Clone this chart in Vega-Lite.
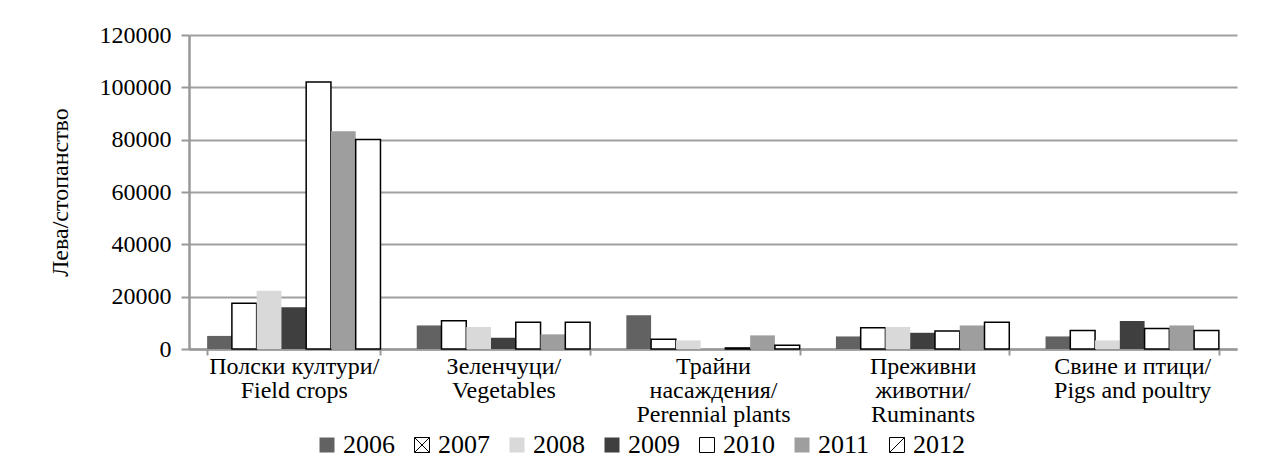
{
  "$schema": "https://vega.github.io/schema/vega-lite/v6.json",
  "width": 1048,
  "height": 314,
  "autosize": {"type": "none"},
  "padding": {"left": 189, "top": 35, "right": 27, "bottom": 110},
  "background": "white",
  "config": {
    "view": {"stroke": null},
    "font": "Liberation Serif",
    "axis": {"labelFont": "'Liberation Serif', 'DejaVu Serif', serif", "titleFont": "'Liberation Serif', 'DejaVu Serif', serif"},
    "legend": {"labelFont": "'Liberation Serif', 'DejaVu Serif', serif"}
  },
  "data": {
    "values": [
      {"category": "Полски култури/|Field crops", "year": "2006", "value": 5000},
      {"category": "Полски култури/|Field crops", "year": "2007", "value": 17500},
      {"category": "Полски култури/|Field crops", "year": "2008", "value": 22300},
      {"category": "Полски култури/|Field crops", "year": "2009", "value": 16000},
      {"category": "Полски култури/|Field crops", "year": "2010", "value": 102000},
      {"category": "Полски култури/|Field crops", "year": "2011", "value": 83200},
      {"category": "Полски култури/|Field crops", "year": "2012", "value": 80100},
      {"category": "Зеленчуци/|Vegetables", "year": "2006", "value": 9000},
      {"category": "Зеленчуци/|Vegetables", "year": "2007", "value": 10800},
      {"category": "Зеленчуци/|Vegetables", "year": "2008", "value": 8400},
      {"category": "Зеленчуци/|Vegetables", "year": "2009", "value": 4300},
      {"category": "Зеленчуци/|Vegetables", "year": "2010", "value": 10200},
      {"category": "Зеленчуци/|Vegetables", "year": "2011", "value": 5600},
      {"category": "Зеленчуци/|Vegetables", "year": "2012", "value": 10200},
      {"category": "Трайни|насаждения/|Perennial plants", "year": "2006", "value": 12900},
      {"category": "Трайни|насаждения/|Perennial plants", "year": "2007", "value": 3700},
      {"category": "Трайни|насаждения/|Perennial plants", "year": "2008", "value": 3300},
      {"category": "Трайни|насаждения/|Perennial plants", "year": "2009", "value": 0},
      {"category": "Трайни|насаждения/|Perennial plants", "year": "2010", "value": 400},
      {"category": "Трайни|насаждения/|Perennial plants", "year": "2011", "value": 5200},
      {"category": "Трайни|насаждения/|Perennial plants", "year": "2012", "value": 1400},
      {"category": "Преживни|животни/|Ruminants", "year": "2006", "value": 4800},
      {"category": "Преживни|животни/|Ruminants", "year": "2007", "value": 8100},
      {"category": "Преживни|животни/|Ruminants", "year": "2008", "value": 8400},
      {"category": "Преживни|животни/|Ruminants", "year": "2009", "value": 6200},
      {"category": "Преживни|животни/|Ruminants", "year": "2010", "value": 6900},
      {"category": "Преживни|животни/|Ruminants", "year": "2011", "value": 9000},
      {"category": "Преживни|животни/|Ruminants", "year": "2012", "value": 10200},
      {"category": "Свине и птици/|Pigs and poultry", "year": "2006", "value": 4800},
      {"category": "Свине и птици/|Pigs and poultry", "year": "2007", "value": 7100},
      {"category": "Свине и птици/|Pigs and poultry", "year": "2008", "value": 3300},
      {"category": "Свине и птици/|Pigs and poultry", "year": "2009", "value": 10700},
      {"category": "Свине и птици/|Pigs and poultry", "year": "2010", "value": 7800},
      {"category": "Свине и птици/|Pigs and poultry", "year": "2011", "value": 9000},
      {"category": "Свине и птици/|Pigs and poultry", "year": "2012", "value": 7100}
    ]
  },
  "encoding": {
    "x": {
      "field": "category",
      "type": "nominal",
      "sort": null,
      "scale": {"paddingInner": 0.173, "paddingOuter": 0.0865},
      "axis": {
        "title": null,
        "labelFont": "'Liberation Serif', 'DejaVu Serif', serif",
        "labelExpr": "split(datum.label, '|')",
        "labelAngle": 0,
        "labelFontSize": 24,
        "labelColor": "black",
        "labelLineHeight": 24,
        "labelPadding": -1,
        "labelBaseline": "top",
        "labelLimit": 400,
        "tickBand": "extent",
        "tickSize": 6,
        "tickColor": "#999999",
        "tickWidth": 2,
        "domainColor": "#999999",
        "domainWidth": 2.5,
        "grid": false
      }
    },
    "xOffset": {
      "field": "year",
      "type": "nominal",
      "scale": {"paddingInner": 0, "paddingOuter": 0}
    },
    "y": {
      "field": "value",
      "type": "quantitative",
      "scale": {"domain": [0, 120000], "nice": false},
      "axis": {
        "title": "Лева/стопанство",
        "titleFont": "'Liberation Serif', 'DejaVu Serif', serif",
        "labelFont": "'Liberation Serif', 'DejaVu Serif', serif",
        "titleFontSize": 24,
        "titleFontWeight": "normal",
        "titleColor": "black",
        "titlePadding": 27,
        "values": [0, 20000, 40000, 60000, 80000, 100000, 120000],
        "format": "d",
        "labelFontSize": 24,
        "labelColor": "black",
        "labelPadding": 10,
        "tickSize": 8,
        "tickColor": "#999999",
        "tickWidth": 2,
        "domainColor": "#999999",
        "domainWidth": 2.5,
        "grid": true,
        "gridColor": "#a0a0a0",
        "gridWidth": 2
      }
    },
    "fill": {
      "field": "year",
      "type": "nominal",
      "scale": {
        "domain": ["2006", "2007", "2008", "2009", "2010", "2011", "2012"],
        "range": ["#626262", "#ffffff", "#d9d9d9", "#3f3f3f", "#ffffff", "#9e9e9e", "#ffffff"]
      },
      "legend": {
        "title": null,
        "orient": "none",
        "legendX": 125,
        "legendY": 397,
        "direction": "horizontal",
        "columns": 7,
        "padding": 0,
        "labelFont": "'Liberation Serif', 'DejaVu Serif', serif",
        "labelFontSize": 26,
        "labelColor": "black",
        "labelOffset": 3,
        "symbolSize": 225,
        "symbolOpacity": 1,
        "symbolStrokeWidth": 1,
        "columnPadding": 14
      }
    },
    "stroke": {
      "field": "year",
      "type": "nominal",
      "scale": {
        "domain": ["2006", "2007", "2008", "2009", "2010", "2011", "2012"],
        "range": ["transparent", "black", "transparent", "transparent", "black", "transparent", "black"]
      },
      "legend": {
        "title": null,
        "orient": "none",
        "legendX": 125,
        "legendY": 397,
        "direction": "horizontal",
        "columns": 7
      }
    }
  },
  "layer": [
    {
      "mark": {"type": "bar", "strokeWidth": 1.5}
    },
    {
      "mark": {"type": "point", "filled": true, "opacity": 0, "strokeWidth": 1},
      "encoding": {
        "shape": {
          "field": "year",
          "type": "nominal",
          "scale": {
            "domain": ["2006", "2007", "2008", "2009", "2010", "2011", "2012"],
            "range": ["square", "M-1,-1H1V1H-1Z M-1,-1L1,1 M1,-1L-1,1", "square", "square", "square", "square", "M-1,-1H1V1H-1Z M-1,1L1,-1"]
          },
          "legend": {
            "title": null,
            "orient": "none",
            "legendX": 125,
            "legendY": 397,
            "direction": "horizontal",
            "columns": 7
          }
        }
      }
    }
  ]
}
